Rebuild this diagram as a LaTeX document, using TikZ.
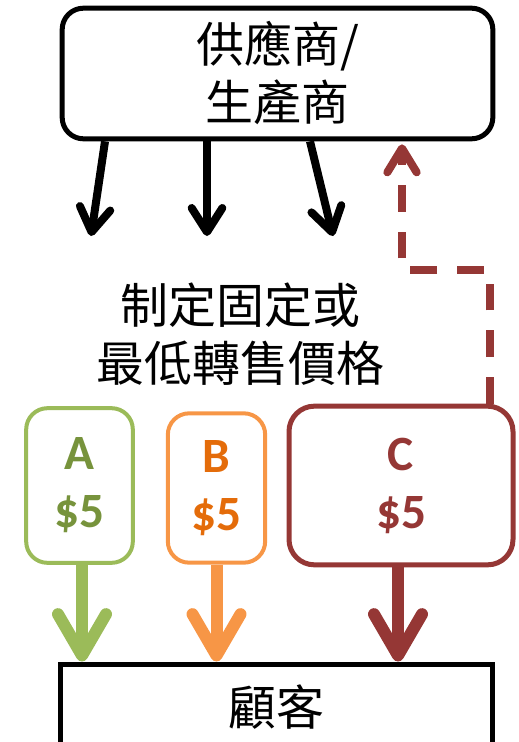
\documentclass[tikz,border=0pt]{standalone}
\usepackage{fontspec}
\newfontfamily\cjk{Noto Sans CJK TC}
\newfontfamily\calib{Carlito}
\usetikzlibrary{arrows.meta,calc}
\definecolor{gline}{HTML}{9BBB59}
\definecolor{gtext}{HTML}{77933C}
\definecolor{oline}{HTML}{F79646}
\definecolor{otext}{HTML}{E46C0A}
\definecolor{dred}{HTML}{953735}
\tikzset{
  bigtxt/.style={font=\cjk\fontsize{36}{43.5}\selectfont, align=center},
  pricebox/.style={rounded corners=16pt, inner sep=0pt, align=center,
    font=\calib\bfseries\fontsize{37}{43.5}\selectfont},
  blackarr/.style={line width=6pt, -{Straight Barb[length=18pt,width=23pt,line cap=round,round]}},
  colarr/.style={line width=9pt, -{Straight Barb[length=31pt,width=36pt,line cap=round,round]}},
}
\begin{document}
\begin{tikzpicture}[x=0.75pt,y=-0.75pt]
\useasboundingbox (0,0) rectangle (518,742);
% top box
\node[draw, line width=3.75pt, rounded corners=16pt, minimum width=323pt, minimum height=98pt,
  bigtxt, inner sep=0pt] (top) at (277.5,73.5) {供應商/\\生產商};
% middle text
\node[bigtxt] (mid) at (240,334) {制定固定或\\最低轉售價格};
% black arrows
\coordinate (e1) at (91,236);
\coordinate (e2) at (207,236);
\coordinate (e3) at (333,236);
\draw[blackarr] ($(top.south)+(-172.5,0)$) -- (e1);
\draw[blackarr] ($(top.south)+(-70.5,0)$) -- (e2);
\draw[blackarr] ($(top.south)+(32.5,0)$) -- (e3);
% price boxes
\node[pricebox, draw=gline, text=gtext, line width=3pt, minimum width=80pt, minimum height=116pt] (A) at (79.5,485.5) {A\\\$5};
\node[pricebox, draw=oline, text=otext, line width=3pt, minimum width=73pt, minimum height=112pt] (B) at (216.5,488) {B\\\$5};
\node[pricebox, draw=dred, text=dred, line width=3.75pt, rounded corners=19pt, minimum width=168pt, minimum height=119pt] (C) at (401,485.5) {C\\\$5};
% bottom box
\node[draw, line width=3.75pt, minimum width=324pt, minimum height=72pt, inner sep=0pt] (cust) at (276,712) {};
\node[font=\cjk\fontsize{36}{43}\selectfont] (custtxt) at (276,707) {顧客};
% colored arrows
\draw[colarr, draw=gline] ($(A.south)+(2.5,0)$) -- ($(cust.north)+(-194,0)$);
\draw[colarr, draw=oline] (B.south) -- ($(cust.north)+(-59.5,0)$);
\draw[colarr, draw=dred] ($(C.south)+(-3,0)$) -- ($(cust.north)+(122,0)$);
% dashed feedback
\coordinate (b1) at (490,270);
\coordinate (b2) at (402,270);
\draw[dred, line width=6pt, dash pattern=on 20pt off 15pt,
  -{Straight Barb[length=18pt,width=22pt,line cap=round,round]}]
  ($(C.north)+(89,0)$) -- (b1) -- (b2) -- ($(top.south)+(124.5,3)$);
\end{tikzpicture}
\end{document}
